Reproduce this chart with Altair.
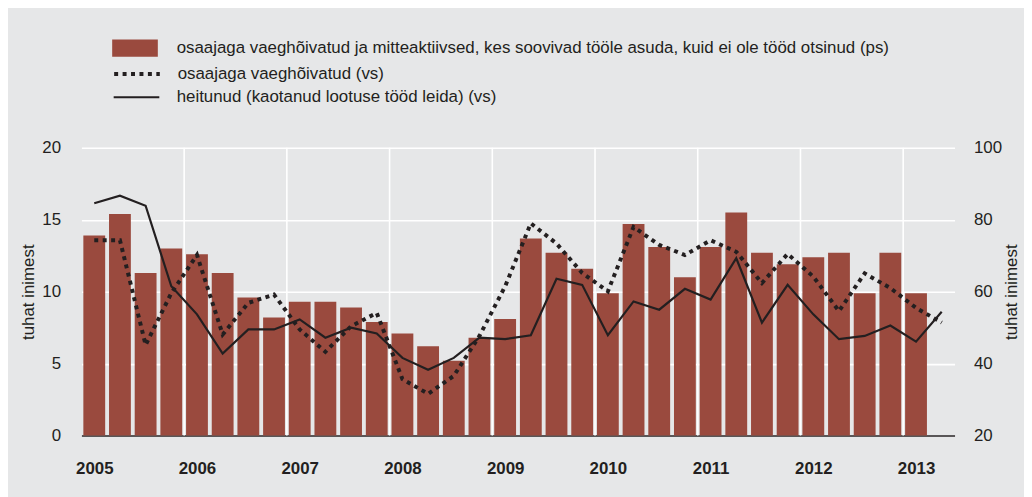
import altair as alt
import pandas as pd

# ---- data ----
years = [2005, 2006, 2007, 2008, 2009, 2010, 2011, 2012, 2013]
quarter_names = ["I", "II", "III", "IV"]

bar_name = "osaajaga vaeghõivatud ja mitteaktiivsed, kes soovivad tööle asuda, kuid ei ole tööd otsinud (ps)"
dot_name = "osaajaga vaeghõivatud (vs)"
solid_name = "heitunud (kaotanud lootuse tööd leida) (vs)"

# left axis, thousand persons (2005 I .. 2013 I)
bar_values = [13.9, 15.4, 11.3, 13.0,
              12.6, 11.3, 9.6, 8.2,
              9.3, 9.3, 8.9, 7.9,
              7.1, 6.2, 5.2, 6.8,
              8.1, 13.7, 12.7, 11.6,
              9.9, 14.7, 13.1, 11.0,
              13.1, 15.5, 12.7, 11.9,
              12.4, 12.7, 9.9, 12.7,
              9.9]

# right axis, thousand persons (2005 I .. 2013 II)
dotted_values = [74.3, 74.3, 45.2, 59.6,
                 70.2, 48.1, 56.9, 59.2,
                 49.5, 43.3, 50.4, 54.1,
                 35.7, 31.6, 36.6, 47.7,
                 61.5, 79.0, 73.4, 65.2,
                 60.1, 78.0, 73.0, 70.2,
                 74.3, 71.1, 62.4, 70.5,
                 64.2, 54.6, 65.1, 61.0,
                 55.5, 51.4]

solid_values = [84.6, 86.7, 83.9, 61.5,
                53.7, 42.8, 49.5, 49.5,
                52.3, 47.2, 50.0, 48.4,
                41.6, 38.3, 41.6, 47.2,
                46.8, 47.9, 63.6, 61.9,
                47.9, 57.3, 55.0, 60.8,
                57.8, 69.3, 51.4, 61.9,
                53.7, 46.8, 47.7, 50.6,
                46.1, 54.4]

left_ticks = [0, 5, 10, 15, 20]
right_ticks = [20, 40, 60, 80, 100]

# ---- table ----
n = len(dotted_values)
quarters = [f"{y} {q}" for y in years for q in quarter_names][:n]
pad = 0.075
df = pd.DataFrame({
    "quarter": quarters,
    "i": list(range(n)),
})
df["c"] = df["i"] + 0.5
df["x0"] = df["i"] + pad
df["x1"] = df["i"] + 1 - pad
df["bar"] = bar_values + [None] * (n - len(bar_values))
df["base"] = 0.0
df["dot"] = dotted_values
df["solid"] = solid_values
df["bar_name"] = bar_name
df["dot_name"] = dot_name
df["solid_name"] = solid_name

year_starts = [i for i in range(n) if quarters[i].endswith(" I")]
bounds = pd.DataFrame({"b": [i for i in year_starts if i > 0]})
label_pos = [i + 0.5 for i in year_starts]

TXT = "#231f20"
RED = "#9a4a3e"
FONT = "Liberation Sans"

xscale = alt.Scale(domain=[0, n], nice=False, zero=False)
xaxis = alt.Axis(values=label_pos, labelExpr=f"'' + ({years[0]} + floor(datum.value / 4))",
                 title=None, grid=False, ticks=False, domain=True, domainColor=TXT,
                 domainWidth=1.5, labelFont=FONT, labelFontSize=17, labelFontWeight="bold",
                 labelColor=TXT, labelPadding=25, labelAngle=0)


def X(field):
    return alt.X(field, type="quantitative", scale=xscale, axis=xaxis)


rules = alt.Chart(bounds).mark_rule(color="white", strokeWidth=1.6).encode(x=X("b"))

bars = alt.Chart(df).transform_filter("isValid(datum.bar)").mark_bar(color=RED).encode(
    x=X("x0"),
    x2="x1:Q",
    y=alt.Y("bar:Q", scale=alt.Scale(domain=[0, 20], nice=False),
            axis=alt.Axis(orient="left", values=left_ticks, grid=True, gridColor="white",
                          gridWidth=1.6, domain=False, ticks=False, labelFont=FONT,
                          labelFontSize=17, labelColor=TXT, labelPadding=21,
                          title="tuhat inimest", titleFont=FONT, titleFontSize=17,
                          titleFontWeight="normal", titleColor=TXT, titlePadding=4)),
    y2="base:Q",
    color=alt.Color("bar_name:N", scale=alt.Scale(domain=[bar_name], range=[RED]),
                    legend=alt.Legend(orient="none", legendX=31, legendY=-123.5, title=None,
                                      padding=0, labelFont=FONT, labelFontSize=17,
                                      labelColor=TXT, labelOffset=19, labelLimit=1000,
                                      symbolType="M-1,-0.38L1,-0.38L1,0.38L-1,0.38Z",
                                      symbolSize=2116, symbolStrokeWidth=0, symbolOpacity=1)),
)

yright = alt.Y("v:Q", scale=alt.Scale(domain=[20, 100], nice=False, zero=False),
               axis=alt.Axis(orient="right", values=right_ticks, grid=False, domain=False,
                             ticks=False, labelFont=FONT, labelFontSize=17, labelColor=TXT,
                             labelPadding=19, title="tuhat inimest", titleFont=FONT,
                             titleFontSize=17, titleFontWeight="normal", titleColor=TXT,
                             titleAngle=270, titleBaseline="top", titlePadding=2))

dotted = alt.Chart(df).transform_calculate(v="datum.dot").mark_line(
    color=TXT, strokeWidth=4, strokeCap="butt").encode(
    x=X("c"),
    y=yright,
    strokeDash=alt.StrokeDash("dot_name:N", scale=alt.Scale(domain=[dot_name], range=[[4, 4.5]]),
                              legend=alt.Legend(orient="none", legendX=31, legendY=-99.5,
                                                title=None, padding=0, labelFont=FONT,
                                                labelFontSize=17, labelColor=TXT, labelOffset=16,
                                                labelLimit=1000, symbolType="stroke",
                                                symbolSize=2116, symbolStrokeWidth=4,
                                                symbolStrokeColor=TXT)),
)

solid = alt.Chart(df).transform_calculate(v="datum.solid").mark_line(
    strokeWidth=2.2).encode(
    x=X("c"),
    y=yright,
    color=alt.Color("solid_name:N", scale=alt.Scale(domain=[solid_name], range=[TXT]),
                    legend=alt.Legend(orient="none", legendX=31, legendY=-75.5, title=None,
                                      padding=0, labelFont=FONT, labelFontSize=17,
                                      labelColor=TXT, labelOffset=16, labelLimit=1000,
                                      symbolType="stroke", symbolSize=2116,
                                      symbolStrokeWidth=2.2)),
)

lines = alt.layer(dotted, solid)

chart = alt.layer(rules, bars, lines).resolve_scale(
    y="independent", color="independent", strokeDash="independent"
).resolve_legend(color="independent", strokeDash="independent").properties(
    width=880, height=290,
    autosize=alt.AutoSizeParams(type="none"),
    padding={"left": 74, "top": 139, "right": 70, "bottom": 60},
    background="#e6e7e8",
).configure_view(stroke=None)

chart.save("out.html", embed_options={"renderer": "svg", "actions": False})
